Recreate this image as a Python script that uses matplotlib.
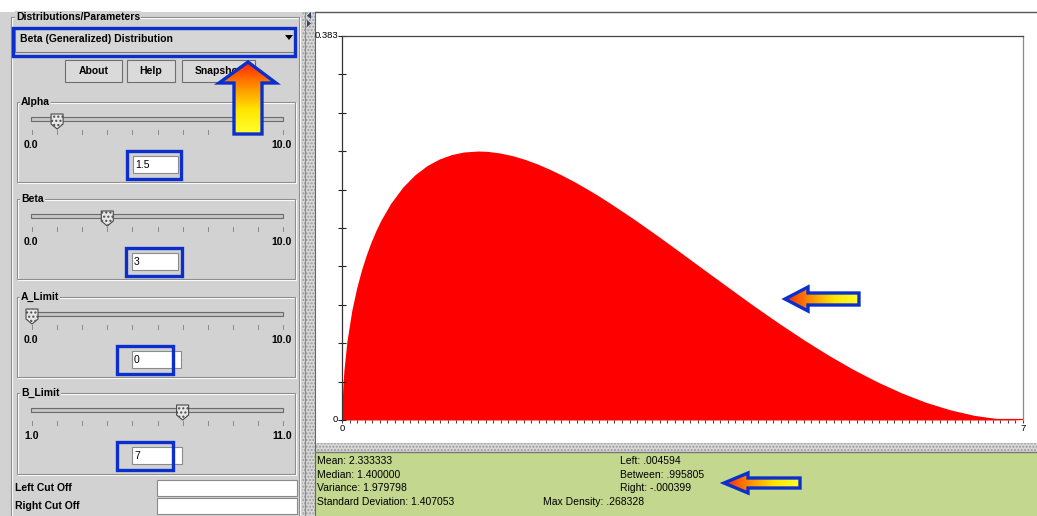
import numpy as np
import matplotlib.pyplot as plt
from matplotlib.patches import Rectangle, Polygon
from matplotlib.colors import LinearSegmentedColormap

plt.rcParams['font.family'] = ['Liberation Sans', 'DejaVu Sans']

W, H = 1037, 516

# density of the generalized beta curve
x_vals = [0, 0.005, 0.01, 0.02, 0.05, 0.1, 0.15, 0.2, 0.25, 0.3, 0.35, 0.4, 0.5,
          0.625, 0.75, 0.875, 1.0, 1.125, 1.25, 1.4, 1.5, 1.625, 1.75, 1.875, 2.0,
          2.125, 2.25, 2.375, 2.5, 2.625, 2.75, 3.0, 3.25, 3.5, 3.75, 4.0, 4.25, 4.5,
          4.75, 5.0, 5.25, 5.5, 5.75, 6.0, 6.25, 6.5, 6.75, 7.0]
density = [0, 0.0250, 0.0354, 0.0498, 0.0781, 0.1089, 0.1314, 0.1495, 0.1647, 0.1778, 0.1892, 0.1992, 0.2160,
           0.2323, 0.2446, 0.2538, 0.2603, 0.2647, 0.2673, 0.2683, 0.2679, 0.2663, 0.2637, 0.2601, 0.2557,
           0.2505, 0.2447, 0.2384, 0.2315, 0.2243, 0.2166, 0.2004, 0.1833, 0.1657, 0.1479, 0.1302, 0.1127, 0.0959,
           0.0798, 0.0647, 0.0507, 0.0382, 0.0271, 0.0177, 0.0102, 0.0046, 0.0012, 0]
y_max = 0.383

# parameter panel
param_names = ['Alpha', 'Beta', 'A_Limit', 'B_Limit']
param_text = ['1.5', '3', '0', '7']
slider_pos = [1, 3, 0, 6]          # slider steps (0..10)
slider_lo = ['0.0', '0.0', '0.0', '1.0']
slider_hi = ['10.0', '10.0', '10.0', '11.0']

stats_left = ['Mean: 2.333333', 'Median: 1.400000', 'Variance: 1.979798',
              'Standard Deviation: 1.407053']
stats_right = ['Left: .004594', 'Between: .995805', 'Right: -.000399']
max_density = 'Max Density: .268328'

GRAY = '#d2d2d2'
GREEN = '#c3d78e'
BLUE = '#0b2fcc'
FS = 7.5

fig = plt.figure(figsize=(W / 100, H / 100), dpi=100)
bg = fig.add_axes([0, 0, 1, 1])
bg.set_xlim(0, W)
bg.set_ylim(H, 0)
bg.axis('off')


def rect(ax, x0, y0, x1, y1, **kw):
    ax.add_patch(Rectangle((x0, y0), x1 - x0, y1 - y0, **kw))


def etched(ax, x0, y0, x1, y1):
    rect(ax, x0 + 1, y0 + 1, x1 + 1, y1 + 1, fill=False, ec='white', lw=0.8)
    rect(ax, x0, y0, x1, y1, fill=False, ec='#8e8e8e', lw=0.8)


def field(ax, x0, y0, x1, y1, txt=''):
    rect(ax, x0, y0, x1, y1, fc='white', ec='#8a8a8a', lw=0.8)
    if txt:
        ax.text(x0 + 2, (y0 + y1) / 2 + 0.5, txt, fontsize=FS, va='center', ha='left')


grad_cmap = LinearSegmentedColormap.from_list('arr', ['#ff2400', '#ff8c00', '#ffe600', '#ffff30'])


def grad_arrow(ax, pts, vertical):
    poly = Polygon(pts, closed=True, fc='none', ec=BLUE, lw=2.4, joinstyle='miter', zorder=6)
    ax.add_patch(poly)
    xs = [p[0] for p in pts]
    ys = [p[1] for p in pts]
    g = np.linspace(0, 1, 256)
    img = g[:, None] if vertical else g[None, :]
    im = ax.imshow(img, cmap=grad_cmap, extent=(min(xs), max(xs), max(ys), min(ys)),
                   origin='upper', aspect='auto', zorder=5, interpolation='bilinear')
    im.set_clip_path(poly)


# ---- window frame ----
rect(bg, 0, 12, 302, H, fc=GRAY, ec='none')
rect(bg, 302, 12, 315, H, fc='#d8d8d8', ec='#9a9a9a', lw=0, hatch='.....')
bg.plot([304.5, 304.5], [12, H], color='#8a8a8a', lw=0.8)
bg.plot([314.5, 314.5], [12, H], color='#666666', lw=0.8)
bg.add_patch(Polygon([(311, 12), (311, 19), (307, 15.5)], fc='#334466', ec='none'))
bg.add_patch(Polygon([(307, 20), (307, 27), (311, 23.5)], fc='#334466', ec='none'))
bg.plot([315, W], [12, 12], color='#555555', lw=1.0)
rect(bg, 315, 443, W, 452, fc='#d8d8d8', ec='#9a9a9a', lw=0, hatch='.....')
bg.plot([315, W], [452, 452], color='#777777', lw=1.0)
rect(bg, 315, 453, W, H, fc=GREEN, ec='none')

# outer titled border
etched(bg, 11, 17, 299, H + 5)
bg.text(16, 17, 'Distributions/Parameters', fontsize=FS, fontweight='bold', va='center',
        ha='left', bbox=dict(boxstyle='square,pad=0.1', fc=GRAY, ec='none'))

# combo box
rect(bg, 15, 29, 295, 52, fc='#d6d6d6', ec='#7a7a7a', lw=0.8)
bg.text(20, 39, 'Beta (Generalized) Distribution', fontsize=FS, fontweight='bold',
        va='center', ha='left')
bg.add_patch(Polygon([(285, 35), (293, 35), (289, 40)], fc='black', ec='none'))

# buttons
for label, x0, x1 in [('About', 65, 122), ('Help', 127, 175), ('Snapshot', 182, 255)]:
    rect(bg, x0, 60, x1, 82, fc='#dadada', ec='#6e6e6e', lw=0.8)
    bg.text((x0 + x1) / 2, 71.5, label, fontsize=FS, fontweight='bold', va='center', ha='center')

# slider sections
box_tops = [102, 199, 297, 393]
box_bots = [182, 279, 377, 474]
field_x = [(133, 178), (132, 178), (132, 181), (132, 182)]
blue_x = [(127, 181), (126, 182), (117, 173), (117, 173)]
track_x0, track_x1 = 31, 283
for i, name in enumerate(param_names):
    top = box_tops[i]
    etched(bg, 17, top, 295, box_bots[i])
    bg.text(21, top, name, fontsize=FS, fontweight='bold', va='center', ha='left',
            bbox=dict(boxstyle='square,pad=0.1', fc=GRAY, ec='none'))
    ty = top + 17
    rect(bg, track_x0, ty - 2, track_x1, ty + 2, fc='#c6c6c6', ec='#6a6a6a', lw=0.8)
    step = (track_x1 - track_x0 - 1) / 10
    for k in range(11):
        tx = track_x0 + 1 + k * step
        bg.plot([tx, tx], [top + 28, top + 32], color='#8a8a8a', lw=0.7)
    thx = track_x0 + 1 + slider_pos[i] * step
    thumb = Polygon([(thx - 6, ty - 5), (thx + 6, ty - 5), (thx + 6, ty + 5),
                     (thx, ty + 10), (thx - 6, ty + 5)],
                    fc='#e8e8e8', ec='#4a4a4a', lw=0.8, hatch='....', zorder=3)
    bg.add_patch(thumb)
    bg.text(24, top + 43, slider_lo[i], fontsize=FS, fontweight='bold', va='center', ha='left')
    bg.text(292, top + 43, slider_hi[i], fontsize=FS, fontweight='bold', va='center', ha='right')
    fx0, fx1 = field_x[i]
    field(bg, fx0, top + 54, fx1, top + 71, param_text[i])
    bx0, bx1 = blue_x[i]
    rect(bg, bx0, top + 49, bx1, top + 77, fill=False, ec=BLUE, lw=2.4, zorder=7)

# cut-off fields
bg.text(15, 488, 'Left Cut Off', fontsize=FS, fontweight='bold', va='center', ha='left')
bg.text(15, 506, 'Right Cut Off', fontsize=FS, fontweight='bold', va='center', ha='left')
field(bg, 157, 480, 297, 496)
field(bg, 157, 498, 297, 514)

# blue highlight round combo box and up arrow
rect(bg, 13, 28, 295, 56, fill=False, ec=BLUE, lw=2.4, zorder=7)
grad_arrow(bg, [(248, 62), (219, 83), (234, 83), (234, 134), (262, 134), (262, 83), (276, 83)],
           vertical=True)

# stats panel
for k, s in enumerate(stats_left):
    bg.text(317, 461 + k * 13.7, s, fontsize=FS, va='center', ha='left')
for k, s in enumerate(stats_right):
    bg.text(620, 461 + k * 13.7, s, fontsize=FS, va='center', ha='left')
bg.text(543, 461 + 3 * 13.7, max_density, fontsize=FS, va='center', ha='left')

grad_arrow(bg, [(724, 483), (748, 473), (748, 478), (800, 478), (800, 488), (748, 488),
                (748, 493)], vertical=False)
grad_arrow(bg, [(785, 299), (808, 287), (808, 293), (859, 293), (859, 305), (808, 305),
                (808, 311)], vertical=False)

# ---- density plot ----
ax = fig.add_axes([342 / W, (H - 420) / H, 681 / W, 384 / H])
ax.set_facecolor('none')
ax.fill_between(x_vals, 0, density, color='#ff0000', lw=0)
ax.axhline(0, color='#ff0000', lw=1.6)
ax.set_xlim(0, 7)
ax.set_ylim(0, y_max)

ax.spines['bottom'].set_visible(False)
ax.spines['left'].set_color('#333333')
ax.spines['top'].set_color('#444444')
ax.spines['right'].set_color('#8a8a8a')
for s in ax.spines.values():
    s.set_linewidth(0.9)

yt = np.linspace(0, y_max, 11)
ax.set_yticks(yt)
ax.set_yticklabels(['0'] + [''] * 9 + ['0.383'])
ax.tick_params(axis='y', direction='inout', length=6, width=0.8, color='#222222',
               labelsize=6.8, pad=0)
ax.set_xticks([0, 7])
ax.set_xticklabels(['0', '7'])
ax.set_xticks(np.linspace(0, 7, 91), minor=True)
ax.tick_params(axis='x', which='both', direction='out', length=2.5, width=0.8,
               color='#444444', labelsize=6.8, pad=0.5)
for lab in ax.get_yticklabels():
    lab.set_verticalalignment('center')

fig.savefig('out.png', dpi=100)
